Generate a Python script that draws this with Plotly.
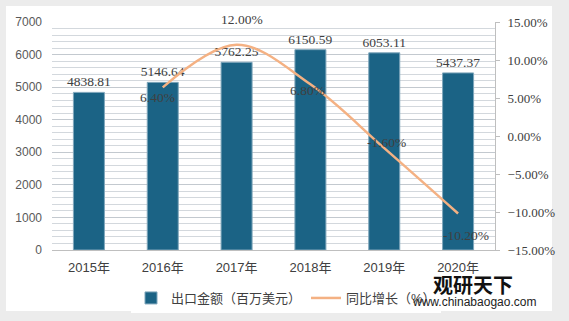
import plotly.graph_objects as go

years = ["2015年", "2016年", "2017年", "2018年", "2019年", "2020年"]
export_values = [4838.81, 5146.64, 5762.25, 6150.59, 6053.11, 5437.37]
growth_years = ["2016年", "2017年", "2018年", "2019年", "2020年"]
growth_values = [6.40, 12.00, 6.80, -1.60, -10.20]

bar_name = "出口金额（百万美元）"
line_name = "同比增长（%）"

BAR_COLOR = "#1b6385"
LINE_COLOR = "#f4b183"
TEXT_COLOR = "#404040"
SERIF = "Liberation Serif, Noto Sans CJK SC"
SANS = "Liberation Sans, Noto Sans CJK SC"

W, H = 569, 321
L, R, T, B = 52, 74, 22, 71

fig = go.Figure()
fig.add_trace(go.Bar(
    x=years, y=export_values, name=bar_name,
    marker=dict(color=BAR_COLOR, line=dict(color="#7fa6bb", width=1)),
    text=[f"{v:.2f}" for v in export_values], textposition="outside",
    constraintext="none",
    textfont=dict(family=SERIF, size=13.5, color=TEXT_COLOR),
    cliponaxis=False, yaxis="y",
))
fig.add_trace(go.Scatter(
    x=growth_years, y=growth_values, name=line_name, mode="lines",
    line=dict(color=LINE_COLOR, width=2.5, shape="spline", smoothing=1.0),
    yaxis="y2",
))

# label offsets (pixels) for growth labels
offsets = [(-5, -10), (5, 25), (-3, -6), (2, 6), (8, -22)]
for gx, gy, (dx, dy) in zip(growth_years, growth_values, offsets):
    fig.add_annotation(x=gx, y=gy, xref="x", yref="y2", text=f"{gy:.2f}%",
                       showarrow=False, xshift=dx, yshift=dy,
                       font=dict(family=SERIF, size=13.5, color=TEXT_COLOR))

def px_x(p):
    return (p - L) / (W - L - R)

def px_y(p):
    return (H - B - p) / (H - T - B)

# white card
fig.add_shape(type="rect", xref="paper", yref="paper", layer="below",
              x0=px_x(6), x1=px_x(552), y0=px_y(311), y1=px_y(6),
              fillcolor="white", line=dict(width=0))

# watermark
fig.add_annotation(xref="paper", yref="paper", x=px_x(473), y=px_y(284),
                   xanchor="center", yanchor="middle",
                   text="<b>观研天下</b>", showarrow=False,
                   font=dict(family="Noto Sans CJK SC", size=20, color="#111111"))
fig.add_annotation(xref="paper", yref="paper", x=px_x(474), y=px_y(302),
                   xanchor="center", yanchor="middle",
                   text="www.chinabaogao.com", showarrow=False,
                   font=dict(family="Liberation Sans", size=12, color="#222222"))

fig.update_layout(
    width=W, height=H,
    margin=dict(l=L, r=R, t=T, b=B, autoexpand=False),
    paper_bgcolor="#ececec",
    plot_bgcolor="#eaf2f8",
    bargap=0.58,
    showlegend=True,
    legend=dict(orientation="h", xref="container", yref="container",
                x=131 / W, y=1 - 283 / H, xanchor="left", yanchor="top",
                bgcolor="white", font=dict(family=SANS, size=13, color=TEXT_COLOR),
                itemwidth=30, tracegroupgap=0),
    xaxis=dict(showline=True, linecolor="#bfbfbf", ticks="", ticklabelstandoff=5,
               automargin=False,
               tickfont=dict(family=SANS, size=13, color=TEXT_COLOR)),
    yaxis=dict(range=[0, 7000], dtick=1000, showgrid=True, gridcolor="#c3c9cf",
               minor=dict(dtick=200, showgrid=True, gridcolor="#d3d8dd"),
               ticklabelstandoff=9, automargin=False,
               zeroline=False, tickfont=dict(family=SANS, size=12, color="#595959")),
    yaxis2=dict(range=[-15, 15], dtick=5, overlaying="y", side="right",
                showgrid=False, zeroline=False, showline=True, linecolor="#bfbfbf",
                ticks="outside", ticklen=4, tickcolor="#bfbfbf", ticklabelstandoff=5,
                automargin=False,
                tickformat=".2f", ticksuffix="%",
                tickfont=dict(family=SERIF, size=13, color=TEXT_COLOR)),
)

fig.write_html("out.html")
